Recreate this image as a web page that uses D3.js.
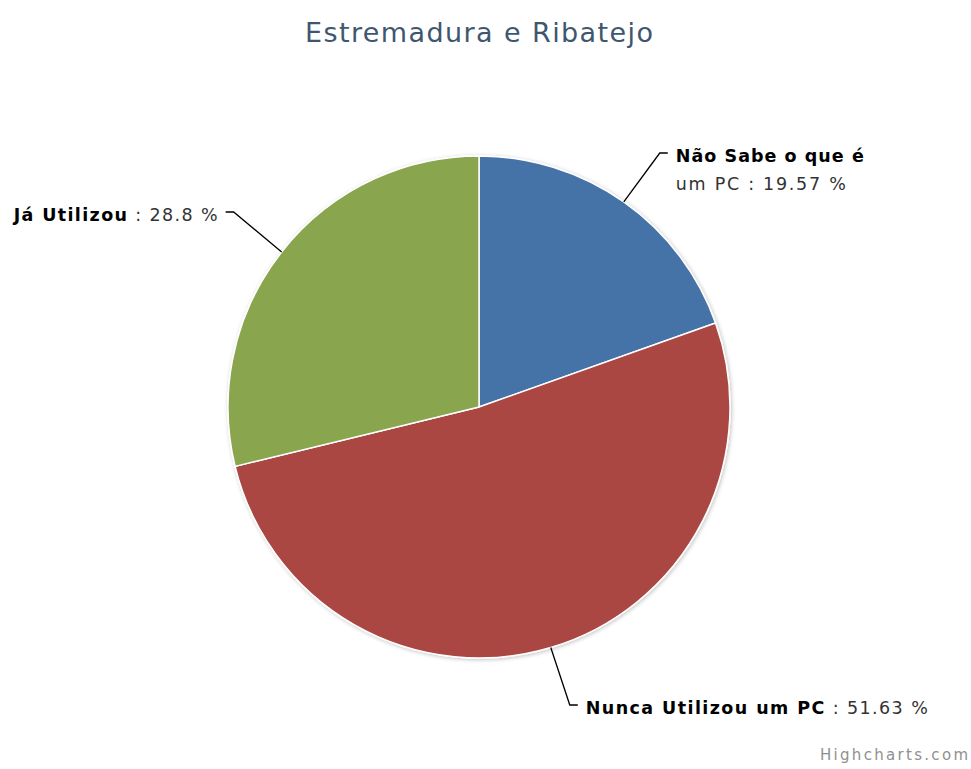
<!DOCTYPE html>
<html><head><meta charset="utf-8">
<script src="https://cdn.jsdelivr.net/npm/d3@7/dist/d3.min.js"></script>
<style>body{margin:0;background:#fff}svg{display:block}</style>
</head><body>
<svg id="c" width="971" height="769"></svg>
<script>
const title = "Estremadura e Ribatejo";
const categories = ["Não Sabe o que é um PC", "Nunca Utilizou um PC", "Já Utilizou"];
const values = [19.57, 51.63, 28.8];
const valueLabels = ["19.57", "51.63", "28.8"];
const colors = ["#4572A7", "#AA4643", "#89A54E"];

const svg = d3.select("#c");
const W = 971, H = 769;
const cx = 479, cy = 407, R = 251;

svg.append("text").attr("x", 305).attr("y", 42).attr("text-anchor", "start")
  .attr("font-family", "DejaVu Sans").attr("font-size", 27).attr("fill", "#3E576F")
  .attr("textLength", 348).attr("lengthAdjust", "spacing")
  .text(title);

const pie = d3.pie().sort(null).value(d => d)(values);
const arc = d3.arc().innerRadius(0).outerRadius(R);
const g = svg.append("g").attr("transform", `translate(${cx},${cy})`);

const defs = svg.append("defs");
const f = defs.append("filter").attr("id", "sh").attr("x", "-10%").attr("y", "-10%").attr("width", "130%").attr("height", "130%");
f.append("feGaussianBlur").attr("in", "SourceAlpha").attr("stdDeviation", 2);
f.append("feOffset").attr("dx", 1).attr("dy", 1).attr("result", "b");
f.append("feComponentTransfer").append("feFuncA").attr("type", "linear").attr("slope", 0.25);
const m = f.append("feMerge"); m.append("feMergeNode"); m.append("feMergeNode").attr("in", "SourceGraphic");

g.append("g").attr("filter", "url(#sh)").selectAll("path").data(pie).join("path")
  .attr("d", arc).attr("fill", (d, i) => colors[i])
  .attr("stroke", "#fff").attr("stroke-width", 1.5).attr("stroke-linejoin", "round");

// label layout (Highcharts-like distribution)
const labelY = [153, 705, 212];
const bendOffset = [36, 19, -48];
const line1Len = [188, 342, 204];
const line2Len = [170];
const side = pie.map(d => Math.sin((d.startAngle + d.endAngle) / 2) >= 0 ? 1 : -1);
const conn = svg.append("g").attr("fill", "none").attr("stroke", "#000").attr("stroke-width", 1.3);
const labels = svg.append("g").attr("font-family", "DejaVu Sans").attr("font-size", 17.5).attr("fill", "#333");

pie.forEach((d, i) => {
  const a = (d.startAngle + d.endAngle) / 2;
  const ex = cx + R * Math.sin(a), ey = cy - R * Math.cos(a);
  const ly = labelY[i];
  const bendX = ex + bendOffset[i];
  const endX = bendX + side[i] * 8;
  conn.append("path").attr("d", `M${ex},${ey}L${bendX},${ly}L${endX},${ly}`);
  const tx = endX + side[i] * 8;
  const anchor = side[i] > 0 ? "start" : "end";
  const t = labels.append("text").attr("x", tx).attr("y", ly + 9).attr("text-anchor", anchor)
    .attr("textLength", line1Len[i]).attr("lengthAdjust", "spacing");
  if (i === 0) {
    t.append("tspan").attr("font-weight", "bold").attr("fill", "#000").text("Não Sabe o que é");
    labels.append("text").attr("x", tx).attr("y", ly + 37).attr("text-anchor", anchor)
      .attr("textLength", line2Len[0]).attr("lengthAdjust", "spacing")
      .text("um PC : " + valueLabels[i] + " %");
  } else {
    t.append("tspan").attr("font-weight", "bold").attr("fill", "#000").text(categories[i]);
    t.append("tspan").text(" : " + valueLabels[i] + " %");
  }
});

svg.append("text").attr("x", 820).attr("y", H - 9).attr("text-anchor", "start")
  .attr("font-family", "DejaVu Sans").attr("font-size", 15).attr("fill", "#909090")
  .attr("textLength", 148).attr("lengthAdjust", "spacing").text("Highcharts.com");
</script>
</body></html>
